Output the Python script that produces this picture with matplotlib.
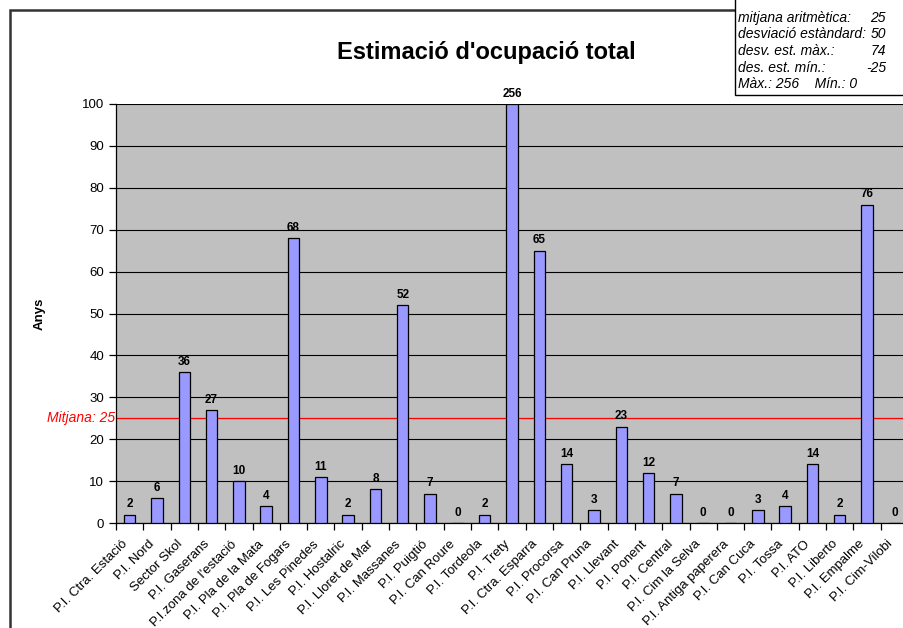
import numpy as np
import matplotlib
matplotlib.use("Agg")
from matplotlib import pyplot as plt
from matplotlib.patches import Rectangle
from matplotlib.transforms import blended_transform_factory, ScaledTranslation

plt.rcParams['font.family'] = ['Liberation Sans', 'DejaVu Sans']

#Dades
poligons = ["P.I. Ctra. Estació", "P.I. Nord", "Sector Skol", "P.I. Gaserans",
            "P.I.zona de l'estació", "P.I. Pla de la Mata", "P.I. Pla de Fogars",
            "P.I. Les Pinedes", "P.I. Hostalric", "P.I. Lloret de Mar",
            "P.I. Massanes", "P.I. Puigtió", "P.I. Can Roure", "P.I. Tordeola",
            "P.I. Trety", "P.I. Ctra. Esparra", "P.I. Procorsa", "P.I. Can Pruna",
            "P.I. Llevant", "P.I. Ponent", "P.I. Central", "P.I. Cim la Selva",
            "P.I. Antiga paperera", "P.I. Can Cuca", "P.I. Tossa", "P.I. ATO",
            "P.I. Liberto", "P.I. Empalme", "P.I. Cim-Vilobi"]
anys = [2, 6, 36, 27, 10, 4, 68, 11, 2, 8, 52, 7, 0, 2, 256, 65, 14, 3, 23,
        12, 7, 0, 0, 3, 4, 14, 2, 76, 0]
mitjana = 25
estadistiques = [("mitjana aritmètica:", "25"), ("desviació estàndard:", "50"),
                 ("desv. est. màx.:", "74"), ("des. est. mín.:", "-25")]

W, H = 904, 628
fig = plt.figure(figsize=(W / 100, H / 100), dpi=100)
ax = fig.add_axes([116 / W, (H - 523) / H, 792 / W, 419 / H])
ax.set_facecolor('#C0C0C0')

x = np.arange(len(anys))
ax.bar(x, np.minimum(anys, 100), width=0.42, color='#9999FF',
       edgecolor='black', linewidth=0.9, zorder=3)
ax.set_xlim(-0.5, len(anys) - 0.5)
ax.set_ylim(0, 100)

#Etiquetes de valor
for xi, v in zip(x, anys):
    ax.text(xi, min(v, 100) + 1.0, str(v), ha='center', va='bottom',
            fontsize=8.5, fontweight='bold', clip_on=False)

#Eixos
ax.set_yticks(np.arange(0, 101, 10))
ax.tick_params(axis='y', direction='out', length=5, labelsize=9.5, width=0.9)
ax.grid(axis='y', color='black', linewidth=0.8, zorder=1)
ax.set_xticks(np.arange(-0.5, len(anys), 1))
ax.set_xticklabels([])
ax.tick_params(axis='x', which='major', direction='out', length=5, width=0.9)
ax.set_xticks(x, minor=True)
ax.set_xticklabels(poligons, minor=True, rotation=45, ha='right', va='center',
                   rotation_mode='anchor', fontsize=9.5)
ax.tick_params(axis='x', which='minor', length=0, pad=14)
desplac = ScaledTranslation(-4 / 100, 0, fig.dpi_scale_trans)
for lbl in ax.get_xticklabels(minor=True):
    lbl.set_transform(lbl.get_transform() + desplac)
for s in ['top', 'right']:
    ax.spines[s].set_visible(False)
ax.spines['left'].set_linewidth(0.9)
ax.spines['bottom'].set_linewidth(0.9)

ax.set_ylabel('Anys', fontsize=9.5, fontweight='bold', labelpad=26)

#Línia de la mitjana
ax.axhline(mitjana, color='#FF0000', linewidth=0.9, zorder=2)
trans = blended_transform_factory(ax.transAxes, ax.transData)
ax.text(-0.001, mitjana, 'Mitjana: %d' % mitjana, transform=trans, color='#FF0000',
        fontstyle='italic', fontsize=10, ha='right', va='center')

#Títol
fig.text(486 / W, 1 - 53 / H, "Estimació d'ocupació total", ha='center',
         va='center', fontsize=17, fontweight='bold')

#Marc
fig.patches.append(Rectangle((10 / W, -0.1), 1.2, 1.1 - 10 / H, fill=False,
                             edgecolor='#333333', linewidth=1.8,
                             transform=fig.transFigure, figure=fig))
fig.patches.append(Rectangle((735 / W, 1 - 95 / H), 0.3, 0.2, fill=True,
                             facecolor='white', edgecolor='black', linewidth=1.0,
                             transform=fig.transFigure, figure=fig, zorder=5))

#Quadre d'estadístiques
y0 = 18
for i, (nom, val) in enumerate(estadistiques):
    yy = 1 - (y0 + i * 16.5) / H
    fig.text(738 / W, yy, nom, fontsize=10, fontstyle='italic', va='center', zorder=6)
    fig.text(886 / W, yy, val, fontsize=10, fontstyle='italic', va='center',
             ha='right', zorder=6)
fig.text(738 / W, 1 - (y0 + 4 * 16.5) / H, 'Màx.: %d    Mín.: %d' % (max(anys), min(anys)),
         fontsize=10, fontstyle='italic', va='center', zorder=6)

fig.savefig('out.png', dpi=100)
